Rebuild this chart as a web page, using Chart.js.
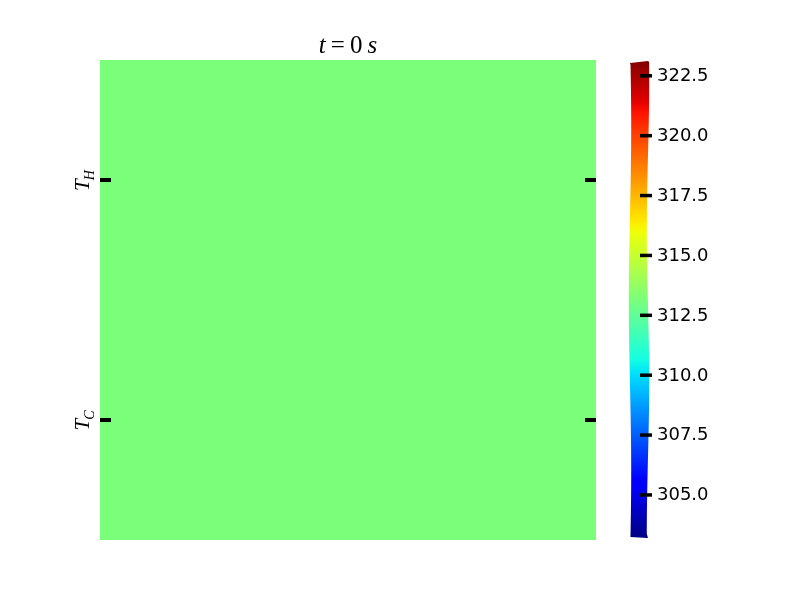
<!DOCTYPE html>
<html>
<head>
<meta charset="utf-8">
<script src="https://cdn.jsdelivr.net/npm/chart.js@4.4.1/dist/chart.umd.min.js"></script>
<style>
  html, body { margin: 0; padding: 0; background: #fff; }
  #wrap { position: relative; width: 800px; height: 600px; }
  .box { position: absolute; top: 0; height: 600px; }
</style>
</head>
<body>
<div id="wrap">
  <div class="box" style="left:0;width:600px"><canvas id="field"></canvas></div>
  <div class="box" style="left:600px;width:200px"><canvas id="cbar"></canvas></div>
</div>
<script>
// temperature field at t = 0 s (K), rows from bottom to top
const fieldT = [
  [313.15, 313.15, 313.15, 313.15],
  [313.15, 313.15, 313.15, 313.15],
  [313.15, 313.15, 313.15, 313.15],
  [313.15, 313.15, 313.15, 313.15]
];
const colLabels = ['0', '1', '2', '3'];
// y ticks (row units) and their subscripts
const yTickPos = [3, 1];
const yTickSubs = ['H', 'C'];
// colorbar
const cbarMin = 303.15;
const cbarMax = 323.15;
const cbarTicks = [305.0, 307.5, 310.0, 312.5, 315.0, 317.5, 320.0, 322.5];

// matplotlib "jet"
const jetR = [[0, 0], [0.35, 0], [0.66, 1], [0.89, 1], [1, 0.5]];
const jetG = [[0, 0], [0.125, 0], [0.375, 1], [0.64, 1], [0.91, 0], [1, 0]];
const jetB = [[0, 0.5], [0.11, 1], [0.34, 1], [0.65, 0], [1, 0]];
function interp(pts, t) {
  for (let i = 1; i < pts.length; i++) {
    if (t <= pts[i][0]) {
      const f = (t - pts[i - 1][0]) / (pts[i][0] - pts[i - 1][0]);
      return pts[i - 1][1] + f * (pts[i][1] - pts[i - 1][1]);
    }
  }
  return pts[pts.length - 1][1];
}
function jet(t) {
  t = Math.max(0, Math.min(1, t));
  const c = [jetR, jetG, jetB].map(p => Math.round(interp(p, t) * 255));
  return 'rgb(' + c.join(',') + ')';
}
const norm = v => (v - cbarMin) / (cbarMax - cbarMin);

// draws a math-ish string from pieces [text, italic]
function drawPieces(ctx, pieces, size, x, y, gap) {
  let w = 0;
  pieces.forEach(p => {
    ctx.font = (p[1] ? 'italic ' : '') + size + 'px "Liberation Serif"';
    w += ctx.measureText(p[0]).width;
  });
  w += gap * (pieces.length - 1);
  let cx = x - w / 2;
  pieces.forEach(p => {
    ctx.font = (p[1] ? 'italic ' : '') + size + 'px "Liberation Serif"';
    ctx.fillText(p[0], cx, y);
    cx += ctx.measureText(p[0]).width + gap;
  });
}

const fieldDecor = {
  id: 'fieldDecor',
  afterDraw(chart) {
    const ctx = chart.ctx;
    const a = chart.chartArea;
    const ys = chart.scales.y;
    ctx.save();
    ctx.fillStyle = '#000';
    ctx.textBaseline = 'alphabetic';
    ctx.textAlign = 'left';
    drawPieces(ctx, [['t', true], ['=', false], ['0', false], ['s', true]], 25, (a.left + a.right) / 2, 53, 5);

    yTickPos.forEach((v, i) => {
      const y = ys.getPixelForValue(v);
      ctx.fillRect(a.left, y - 2, 11, 4);
      ctx.fillRect(a.right - 11, y - 2, 11, 4);
      // rotated label T_sub
      ctx.save();
      ctx.translate(89, y);
      ctx.rotate(-Math.PI / 2);
      ctx.font = 'italic 21px "Liberation Serif"';
      const wT = ctx.measureText('T').width;
      ctx.font = 'italic 14px "Liberation Serif"';
      const wS = ctx.measureText(yTickSubs[i]).width;
      const x0 = -(wT + wS) / 2;
      ctx.font = 'italic 21px "Liberation Serif"';
      ctx.fillText('T', x0, 0);
      ctx.font = 'italic 14px "Liberation Serif"';
      ctx.fillText(yTickSubs[i], x0 + wT - 1, 5);
      ctx.restore();
    });
    ctx.restore();
  }
};

new Chart(document.getElementById('field'), {
  type: 'bar',
  data: {
    labels: colLabels,
    datasets: fieldT.map(row => ({
      data: row.map(() => 1),
      backgroundColor: row.map(v => jet(norm(v))),
      borderWidth: 0,
      barPercentage: 1,
      categoryPercentage: 1,
      stack: 'field'
    }))
  },
  options: {
    responsive: true,
    maintainAspectRatio: false,
    animation: false,
    layout: { padding: { left: 100, right: 4, top: 60, bottom: 60 } },
    plugins: { legend: { display: false }, tooltip: { enabled: false } },
    scales: {
      x: { display: false, stacked: true },
      y: { display: false, stacked: true, min: 0, max: fieldT.length }
    }
  },
  plugins: [fieldDecor]
});

// wobbly outline of the colorbar (xkcd look)
function cbarPath(ctx, a) {
  const top = a.top + 2, bot = a.bottom - 2;
  ctx.beginPath();
  ctx.moveTo(a.left + 2, top + 1);
  ctx.lineTo(a.right - 2, top - 1);
  for (let y = top; y <= bot; y += 4) {
    ctx.lineTo(a.right - 2 + 1.2 * Math.sin((y - top) / 48 + 1.2), y);
  }
  ctx.lineTo(a.right - 2, bot + 1);
  ctx.lineTo(a.left + 2, bot);
  for (let y = bot; y >= top; y -= 4) {
    ctx.lineTo(a.left + 2 + 1.2 * Math.sin((y - top) / 55 + 0.4), y);
  }
  ctx.closePath();
}

const cbarDecor = {
  id: 'cbarDecor',
  beforeDatasetsDraw(chart) {
    chart.ctx.save();
    cbarPath(chart.ctx, chart.chartArea);
    chart.ctx.clip();
  },
  afterDatasetsDraw(chart) {
    chart.ctx.restore();
  },
  afterDraw(chart) {
    const ctx = chart.ctx;
    const a = chart.chartArea;
    const ys = chart.scales.y;
    ctx.save();
    ctx.fillStyle = '#000';
    ctx.font = '18px "DejaVu Sans"';
    ctx.textBaseline = 'middle';
    ctx.textAlign = 'left';
    cbarTicks.forEach(v => {
      const y = ys.getPixelForValue(v);
      ctx.fillRect(a.right - 10, y - 1.5, 12, 3.5);
      ctx.fillText(v.toFixed(1), a.right + 7, y + 1);
    });
    ctx.restore();
  }
};

new Chart(document.getElementById('cbar'), {
  type: 'bar',
  data: {
    labels: ['T'],
    datasets: [{
      data: [[cbarMin, cbarMax]],
      borderWidth: 0,
      barPercentage: 1,
      categoryPercentage: 1,
      backgroundColor(context) {
        const a = context.chart.chartArea;
        if (!a) return jet(0.5);
        const g = context.chart.ctx.createLinearGradient(0, a.bottom, 0, a.top);
        for (let i = 0; i <= 64; i++) g.addColorStop(i / 64, jet(i / 64));
        return g;
      }
    }]
  },
  options: {
    responsive: true,
    maintainAspectRatio: false,
    animation: false,
    layout: { padding: { left: 28, right: 150, top: 60, bottom: 61 } },
    plugins: { legend: { display: false }, tooltip: { enabled: false } },
    scales: {
      x: { display: false },
      y: { display: false, min: cbarMin, max: cbarMax }
    }
  },
  plugins: [cbarDecor]
});
</script>
</body>
</html>
